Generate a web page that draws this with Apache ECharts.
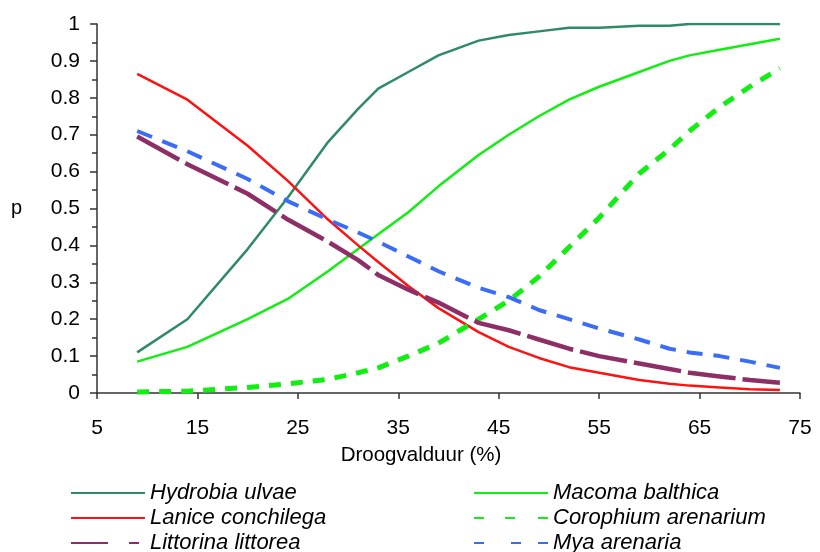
<!DOCTYPE html>
<html><head><meta charset="utf-8">
<script src="https://cdn.jsdelivr.net/npm/echarts@6/dist/echarts.min.js"></script>
<style>html,body{margin:0;padding:0;background:#fff}#c{width:820px;height:552px}</style>
</head><body><div id="c"></div>
<script>
const xVals = [9, 14, 20, 24, 28, 31, 33, 36, 39, 43, 46, 49, 52, 55, 59, 62, 64, 67, 70, 73];
const hydrobia = [0.11, 0.2, 0.39, 0.53, 0.68, 0.77, 0.825, 0.87, 0.915, 0.955, 0.97, 0.98, 0.99, 0.99, 0.995, 0.995, 1.0, 1.0, 1.0, 1.0];
const macoma = [0.085, 0.125, 0.2, 0.255, 0.33, 0.39, 0.43, 0.49, 0.56, 0.645, 0.7, 0.75, 0.795, 0.83, 0.87, 0.9, 0.915, 0.93, 0.945, 0.96];
const lanice = [0.865, 0.795, 0.67, 0.575, 0.47, 0.4, 0.355, 0.29, 0.23, 0.165, 0.125, 0.095, 0.07, 0.055, 0.035, 0.025, 0.02, 0.015, 0.01, 0.008];
const corophium = [0.003, 0.005, 0.015, 0.025, 0.037, 0.055, 0.068, 0.1, 0.135, 0.2, 0.25, 0.315, 0.395, 0.475, 0.595, 0.66, 0.71, 0.775, 0.83, 0.88];
const littorina = [0.695, 0.62, 0.54, 0.47, 0.41, 0.36, 0.32, 0.28, 0.245, 0.19, 0.17, 0.145, 0.12, 0.1, 0.08, 0.065, 0.055, 0.045, 0.035, 0.028];
const mya = [0.71, 0.655, 0.58, 0.52, 0.47, 0.435, 0.41, 0.37, 0.33, 0.285, 0.26, 0.225, 0.2, 0.175, 0.145, 0.12, 0.11, 0.1, 0.085, 0.068];
const names = ['Hydrobia ulvae', 'Macoma balthica', 'Lanice conchilega', 'Corophium arenarium', 'Littorina littorea', 'Mya arenaria'];
const xTicks = [5, 15, 25, 35, 45, 55, 65, 75];

const pair = arr => xVals.map((x, i) => [x, arr[i]]);
const font = 'Liberation Sans, Arial, sans-serif';
function ser(name, arr, color, width, type) {
  return { name, type: 'line', data: pair(arr), showSymbol: false, symbol: 'none',
    lineStyle: { color, width, type, cap: 'butt' }, itemStyle: { color }, animation: false };
}
const legText = { fontFamily: font, fontSize: 22, lineHeight: 22, fontStyle: 'italic', color: '#000' };
function leg(name, left, top, dash) {
  const item = { name };
  if (dash) item.lineStyle = { type: dash };
  return { orient: 'horizontal', left, top, padding: 0, itemWidth: 74, itemHeight: 14,
    itemStyle: { opacity: 0 }, textStyle: legText, data: [item] };
}
const chart = echarts.init(document.getElementById('c'));
chart.setOption({
  animation: false,
  grid: { left: 97, right: 20, top: 24, bottom: 159 },
  xAxis: {
    type: 'value', min: 5, max: 75, interval: 10,
    name: 'Droogvalduur (%)', nameLocation: 'middle', nameGap: 52,
    nameTextStyle: { fontFamily: font, fontSize: 20.5, color: '#000', padding: [0, 55, 0, 0] },
    axisLine: { lineStyle: { color: '#333', width: 1.5 } },
    axisTick: { show: true, length: 6, inside: false, lineStyle: { color: '#333', width: 1.5 } },
    axisLabel: { fontFamily: font, fontSize: 21, color: '#000', margin: 25, customValues: xTicks },
    splitLine: { show: false }
  },
  yAxis: {
    type: 'value', min: 0, max: 1, interval: 0.1,
    name: 'p', nameLocation: 'middle', nameRotate: 0, nameGap: 75,
    nameTextStyle: { fontFamily: font, fontSize: 20, color: '#000' },
    axisLine: { show: true, lineStyle: { color: '#333', width: 1.5 } },
    axisTick: { show: true, length: 7, lineStyle: { color: '#333', width: 1.5 } },
    minorTick: { show: true, splitNumber: 2, length: 5, lineStyle: { color: '#333', width: 1.5 } },
    axisLabel: { fontFamily: font, fontSize: 21, color: '#000', margin: 17 },
    splitLine: { show: false }
  },
  legend: [
    leg(names[0], 70, 482),
    leg(names[2], 70, 507),
    leg(names[4], 70, 532, [37, 21, 10, 10]),
    leg(names[1], 473, 482),
    leg(names[3], 473, 507, [10, 21, 10, 23]),
    leg(names[5], 473, 532, [10, 27, 10, 17])
  ],
  series: [
    ser(names[0], hydrobia, '#2f8a66', 2.5, 'solid'),
    ser(names[1], macoma, '#11ee11', 2.5, 'solid'),
    ser(names[2], lanice, '#ff1111', 2.5, 'solid'),
    ser(names[3], corophium, '#11ee11', 5, [12, 10]),
    ser(names[4], littorina, '#8e2e66', 4.5, [48, 7]),
    ser(names[5], mya, '#3a6cf5', 4, [16, 11])
  ]
});
</script></body></html>
